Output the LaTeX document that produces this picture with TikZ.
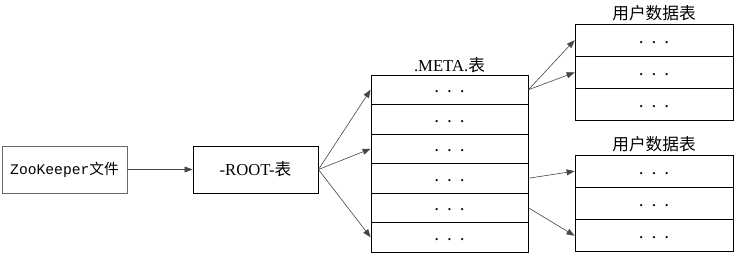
\documentclass[tikz,border=0pt]{standalone}
\usepackage{fontspec}
\setmainfont{Liberation Serif}
\newfontfamily\cjk{Noto Sans CJK SC}
\newfontfamily\zkfont{Liberation Mono}
\usetikzlibrary{arrows.meta, positioning}
\definecolor{linegray}{RGB}{70, 70, 70}
\definecolor{framegray}{RGB}{105, 105, 105}

\tikzset{
  filebox/.style={draw=framegray, line width=0.7pt, minimum width=93.75pt,
                  minimum height=35.25pt, inner sep=0pt, font=\fontsize{11}{13}\selectfont},
  metacell/.style={draw=black, line width=0.6pt, minimum width=117.75pt,
                   minimum height=22.1pt, inner sep=0pt},
  usercell/.style={draw=black, line width=0.6pt, minimum width=118.5pt,
                   minimum height=24.2pt, inner sep=0pt},
  tabletitle/.style={inner sep=1pt, font=\fontsize{12.5}{14}\selectfont},
  link/.style={draw=linegray, line width=0.45pt, -{Triangle[length=6pt, width=4.5pt]}}
}
\newcommand{\celldots}{\strut\textbf{.}\hspace{7pt}\textbf{.}\hspace{7pt}\textbf{.}}

\begin{document}
\begin{tikzpicture}[x=0.75pt, y=-0.75pt]
  \useasboundingbox (0,0) rectangle (736,257);

  % left part
  \node[filebox] (zk) at (64.5,169.5) {\zkfont ZooKeeper{\cjk 文件}};
  \node[filebox, draw=black, font=\fontsize{12.5}{14}\selectfont] (root) at (255.5,169.5) {-ROOT-{\cjk 表}};

  % .META. table
  \foreach \i in {1,...,6}
    \node[metacell] (m\i) at (449.5,{75+29.5*(\i-0.5)}) {\celldots};
  \node[tabletitle, above=0.5pt of m1] (metatitle) {.META.{\cjk 表}};

  % user tables
  \foreach \i in {1,2,3} {
    \node[usercell] (u\i) at (654,{24+32.3*(\i-0.5)}) {\celldots};
    \node[usercell] (v\i) at (654,{155+32.3*(\i-0.5)}) {\celldots};
  }
  \node[tabletitle, above=0.5pt of u1] (utitle) {\cjk 用户数据表};
  \node[tabletitle, above=0.5pt of v1] (vtitle) {\cjk 用户数据表};

  % links
  \draw[link] (zk) -- (root);
  \foreach \t in {m1,m3,m6}
    \draw[link] (root.east) -- (\t.west);
  \draw[link] (m1.east) -- (u1.west);
  \draw[link] (m1.east) -- (u2.west);
  \draw[link] (m4.east) -- (v1.west);
  \draw[link] (m5.east) -- (v3.west);
\end{tikzpicture}
\end{document}
